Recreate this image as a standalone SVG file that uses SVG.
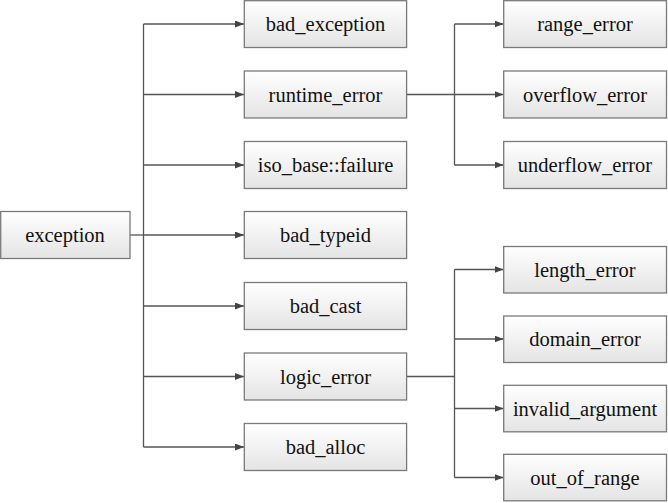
<svg xmlns="http://www.w3.org/2000/svg" width="668" height="503" viewBox="0 0 668 503">
<defs>
<linearGradient id="g" x1="0" y1="0" x2="0" y2="1">
<stop offset="0" stop-color="#ffffff"/>
<stop offset="1" stop-color="#e4e4e4"/>
</linearGradient>
<marker id="a" markerUnits="userSpaceOnUse" markerWidth="9" markerHeight="7" refX="9" refY="3.5" orient="auto">
<path d="M0,0 L9,3.5 L0,7 z" fill="#444"/>
</marker>
<style>
.b{fill:url(#g);stroke:#7a7a7a;stroke-width:1.3}
.t{font-family:'Liberation Serif','Times New Roman',serif;font-size:20.5px;fill:#111;text-anchor:middle}
.c{fill:none;stroke:#555;stroke-width:1.3}
</style>
</defs>
<rect width="668" height="503" fill="#fff"/>
<g id="connectors">
<path class="c" d="M130,235 H143.5"/>
<path class="c" d="M143.5,24 V447"/>
<path class="c" d="M143.5,24 H244" marker-end="url(#a)"/>
<path class="c" d="M143.5,94.5 H244" marker-end="url(#a)"/>
<path class="c" d="M143.5,165 H244" marker-end="url(#a)"/>
<path class="c" d="M143.5,235 H244" marker-end="url(#a)"/>
<path class="c" d="M143.5,306 H244" marker-end="url(#a)"/>
<path class="c" d="M143.5,376.5 H244" marker-end="url(#a)"/>
<path class="c" d="M143.5,447 H244" marker-end="url(#a)"/>
<path class="c" d="M406.5,94.5 H454.5"/>
<path class="c" d="M454.5,24 V165"/>
<path class="c" d="M454.5,24 H503.5" marker-end="url(#a)"/>
<path class="c" d="M454.5,94.5 H503.5" marker-end="url(#a)"/>
<path class="c" d="M454.5,165 H503.5" marker-end="url(#a)"/>
<path class="c" d="M406.5,376.5 H454.5"/>
<path class="c" d="M454.5,269.5 V477.5"/>
<path class="c" d="M454.5,269.5 H503.5" marker-end="url(#a)"/>
<path class="c" d="M454.5,339 H503.5" marker-end="url(#a)"/>
<path class="c" d="M454.5,408.5 H503.5" marker-end="url(#a)"/>
<path class="c" d="M454.5,477.5 H503.5" marker-end="url(#a)"/>
</g>
<g id="exception"><rect class="b" x="0.7" y="211.5" width="129.3" height="47"/><text class="t" x="65" y="242">exception</text></g>
<g id="bad_exception"><rect class="b" x="244.3" y="0.7" width="162.3" height="46.8"/><text class="t" x="325.5" y="31">bad_exception</text></g>
<g id="runtime_error"><rect class="b" x="244.3" y="71" width="162.3" height="47"/><text class="t" x="325.5" y="101.5">runtime_error</text></g>
<g id="iso_base_failure"><rect class="b" x="244.3" y="141.5" width="162.3" height="47"/><text class="t" x="325.5" y="172">iso_base::failure</text></g>
<g id="bad_typeid"><rect class="b" x="244.3" y="211.5" width="162.3" height="47"/><text class="t" x="325.5" y="242">bad_typeid</text></g>
<g id="bad_cast"><rect class="b" x="244.3" y="282.5" width="162.3" height="47"/><text class="t" x="325.5" y="313">bad_cast</text></g>
<g id="logic_error"><rect class="b" x="244.3" y="353" width="162.3" height="47"/><text class="t" x="325.5" y="383.5">logic_error</text></g>
<g id="bad_alloc"><rect class="b" x="244.3" y="423.5" width="162.3" height="47"/><text class="t" x="325.5" y="454">bad_alloc</text></g>
<g id="range_error"><rect class="b" x="503.7" y="0.7" width="162.8" height="46.8"/><text class="t" x="585" y="31">range_error</text></g>
<g id="overflow_error"><rect class="b" x="503.7" y="71" width="162.8" height="47"/><text class="t" x="585" y="101.5">overflow_error</text></g>
<g id="underflow_error"><rect class="b" x="503.7" y="141.5" width="162.8" height="47"/><text class="t" x="585" y="172">underflow_error</text></g>
<g id="length_error"><rect class="b" x="503.7" y="246.5" width="162.8" height="46.5"/><text class="t" x="585" y="276.5">length_error</text></g>
<g id="domain_error"><rect class="b" x="503.7" y="316" width="162.8" height="46.5"/><text class="t" x="585" y="346">domain_error</text></g>
<g id="invalid_argument"><rect class="b" x="503.7" y="385.3" width="162.8" height="46.5"/><text class="t" x="585" y="415.5">invalid_argument</text></g>
<g id="out_of_range"><rect class="b" x="503.7" y="454.3" width="162.8" height="46.5"/><text class="t" x="585" y="484.5">out_of_range</text></g>
</svg>
